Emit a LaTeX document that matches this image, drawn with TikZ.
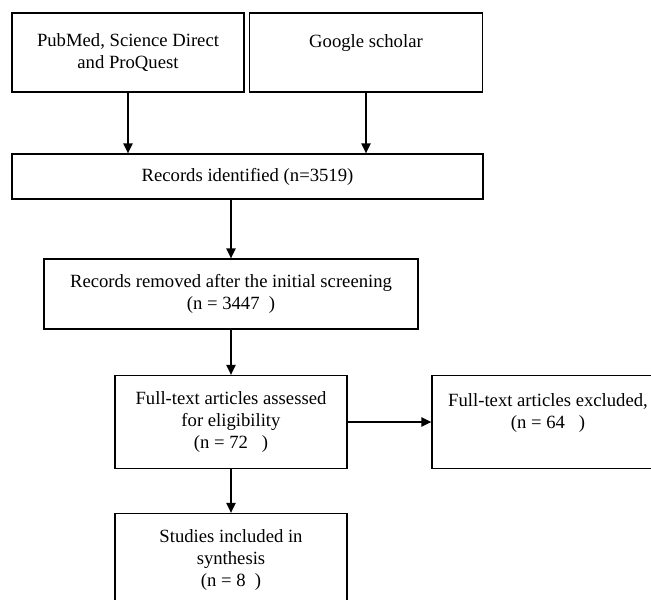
\documentclass[tikz,border=0pt]{standalone}
\usepackage{fontspec}
\setmainfont{Liberation Serif}
\usetikzlibrary{arrows.meta}

\tikzset{
  box/.style={draw, line width=1pt, align=center, inner sep=0pt,
    font=\fontsize{14}{16.5}\selectfont},
  arr/.style={line width=1pt, -{Triangle[length=7.5pt,width=7pt]}}
}

\begin{document}
\begin{tikzpicture}[x=0.75pt, y=-0.75pt]
\useasboundingbox (0,0) rectangle (651,600);
\clip (0,0) rectangle (651,600);

% search sources
\node[box, minimum width=174pt, minimum height=59.25pt] (pubmed) at (128,52.5)
  {PubMed, Science Direct\\and ProQuest};
\node[box, minimum width=174.75pt, minimum height=59.25pt] (scholar) at (366,52.5)
  {Google scholar\\\mbox{}};

% identified
\node[box, minimum width=353.25pt, minimum height=33.75pt] (ident) at (247.5,176.5)
  {Records identified (n=3519)};

% screening
\node[box, minimum width=280.5pt, minimum height=52.5pt] (removed) at (231,294)
  {Records removed after the initial screening\\(n = 3447\ \ )};

% eligibility
\node[box, minimum width=174pt, minimum height=69.75pt] (assessed) at (231,422)
  {Full-text articles assessed\\for eligibility\\(n = 72\ \ \ )};
\node[box, minimum width=174pt, minimum height=69.75pt] (excluded) at (548,422)
  {Full-text articles excluded,\\(n = 64\ \ \ )\\\mbox{}};

% included
\node[box, minimum width=174pt, minimum height=69.75pt] (included) at (231,560)
  {Studies included in\\synthesis\\(n = 8\ \ )};

% arrows
\draw[arr] (pubmed.south) -- (pubmed.south |- ident.north);
\draw[arr] (scholar.south) -- (scholar.south |- ident.north);
\draw[arr] (removed.north |- ident.south) -- (removed.north);
\draw[arr] (removed.south) -- (assessed.north);
\draw[arr] (assessed.east) -- (excluded.west);
\draw[arr] (assessed.south) -- (included.north);

\end{tikzpicture}
\end{document}
